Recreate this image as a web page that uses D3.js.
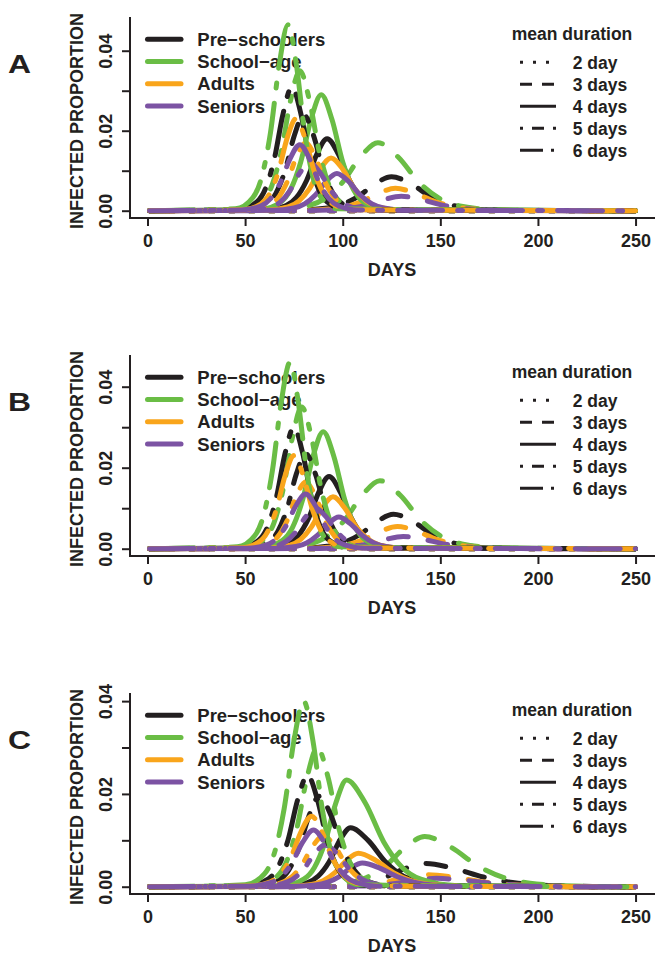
<!DOCTYPE html>
<html><head><meta charset="utf-8">
<script src="https://cdn.jsdelivr.net/npm/d3@7"></script>
<style>
body{margin:0;background:#fff}
svg{display:block}
text{font-family:"Liberation Sans",Arial,Helvetica,sans-serif;font-weight:bold;fill:#231f20}
</style>
</head><body>
<svg id="chart" width="664" height="960"></svg>
<script>
// ---------- data ----------
const panelLetters = ["A", "B", "C"];
const groups = ["Pre\u2212schoolers", "School\u2212age", "Adults", "Seniors"];
const durations = ["2 day", "3 days", "4 days", "5 days", "6 days"];
const dayTicks = [0, 50, 100, 150, 200, 250];
const propTicks = [0, 0.01, 0.02, 0.03, 0.04];
const propLabels = ["0.00", "", "0.02", "", "0.04"];
const xLimits = [-8.96, 259.96];
const yLimits = [[-0.001825, 0.04843], [-0.0018, 0.04783], [-0.00157, 0.04175]];

// curves: [group][duration] -> [days, proportions]; duration order 2,3,4,5,6 days
const flat = [[1, 250], [0, 0]];
const curvesA = [
  [ // Pre-schoolers
    flat,
    [[1,74,91,99.5,108,116.5,125,135,145,155,165,185,250],[0,.00008,.0006,.00154,.00357,.00668,.0085,.00668,.00357,.00154,.0006,.00008,0]],
    [[1,60.5,71,76.25,81.5,86.75,92,97.75,103.5,109.25,115,126.5,250],[0,.00018,.00127,.00326,.00756,.01415,.018,.01415,.00756,.00326,.00127,.00018,0]],
    [[1,51.5,61,65.75,70.5,75.25,80,85,90,95,100,110,250],[0,.00024,.0017,.00434,.01008,.01886,.024,.01886,.01008,.00434,.0017,.00024,0]],
    [[1,47,56,60.5,65,69.5,74,78.5,83,87.5,92,101,250],[0,.00031,.00219,.00561,.01302,.02437,.031,.02437,.01302,.00561,.00219,.00031,0]]
  ],
  [ // School-age
    flat,
    [[1,64,82,91,100,109,118,128.5,139,149.5,160,181,250],[0,.00017,.0012,.00308,.00714,.01336,.017,.01336,.00714,.00308,.0012,.00017,0]],
    [[1,57.5,68,73.25,78.5,83.75,89,94.5,100,105.5,111,122,250],[0,.00029,.00205,.00525,.01218,.0228,.029,.0228,.01218,.00525,.00205,.00029,0]],
    [[1,49.5,59,63.75,68.5,73.25,78,83,88,93,98,108,250],[0,.00035,.00247,.00634,.0147,.0275,.035,.0275,.0147,.00634,.00247,.00035,0]],
    [[1,45,54,58.5,63,67.5,72,76.25,80.5,84.75,89,97.5,250],[0,.00046,.00329,.00842,.01953,.03655,.0465,.03655,.01953,.00842,.00329,.00046,0]]
  ],
  [ // Adults
    flat,
    [[1,76,93,101.5,110,118.5,127,137,147,157,167,187,250],[0,.00006,.0004,.00101,.00235,.0044,.0056,.0044,.00235,.00101,.0004,.00006,0]],
    [[1,61,72,77.5,83,88.5,94,100,106,112,118,130,250],[0,.00013,.00093,.00239,.00554,.01038,.0132,.01038,.00554,.00239,.00093,.00013,0]],
    [[1,52.5,62,66.75,71.5,76.25,81,86,91,96,101,111,250],[0,.00017,.0012,.00308,.00714,.01336,.017,.01336,.00714,.00308,.0012,.00017,0]],
    [[1,49,58,62.5,67,71.5,76,80.75,85.5,90.25,95,104.5,250],[0,.00023,.00163,.00416,.00966,.01808,.023,.01808,.00966,.00416,.00163,.00023,0]]
  ],
  [ // Seniors
    flat,
    [[1,79,96,104.5,113,121.5,130,140,150,160,170,190,250],[0,.00004,.00025,.00065,.00151,.00283,.0036,.00283,.00151,.00065,.00025,.00004,0]],
    [[1,64,75,80.5,86,91.5,97,103,109,115,121,133,250],[0,.00009,.00066,.00168,.00391,.00731,.0093,.00731,.00391,.00168,.00066,.00009,0]],
    [[1,53,63,68,73,78,83,88.5,94,99.5,105,116,250],[0,.00012,.00085,.00217,.00504,.00943,.012,.00943,.00504,.00217,.00085,.00012,0]],
    [[1,48,58,63,68,73,78,83,88,93,98,108,250],[0,.00016,.00117,.00299,.00693,.01297,.0165,.01297,.00693,.00299,.00117,.00016,0]]
  ]
];
const curvesB = [
  [
    flat,
    [[1,75,92,100.5,109,117.5,126,136,146,156,166,186,250],[0,.00008,.0006,.00154,.00357,.00668,.0085,.00668,.00357,.00154,.0006,.00008,0]],
    [[1,61.5,72,77.25,82.5,87.75,93,98.75,104.5,110.25,116,127.5,250],[0,.00018,.00126,.00322,.00748,.01399,.0178,.01399,.00748,.00322,.00126,.00018,0]],
    [[1,52.5,62,66.75,71.5,76.25,81,86,91,96,101,111,250],[0,.00023,.00166,.00425,.00987,.01847,.0235,.01847,.00987,.00425,.00166,.00023,0]],
    [[1,48,57,61.5,66,70.5,75,79.5,84,88.5,93,102,250],[0,.0003,.00212,.00543,.0126,.02358,.03,.02358,.0126,.00543,.00212,.0003,0]]
  ],
  [
    flat,
    [[1,65,83,92,101,110,119,129.5,140,150.5,161,182,250],[0,.00017,.00119,.00304,.00706,.0132,.0168,.0132,.00706,.00304,.00119,.00017,0]],
    [[1,58.5,69,74.25,79.5,84.75,90,95.5,101,106.5,112,123,250],[0,.00029,.00204,.00523,.01214,.02272,.0289,.02272,.01214,.00523,.00204,.00029,0]],
    [[1,50.5,60,64.75,69.5,74.25,79,84,89,94,99,109,250],[0,.00035,.00247,.00634,.0147,.0275,.035,.0275,.0147,.00634,.00247,.00035,0]],
    [[1,46,55,59.5,64,68.5,73,77.25,81.5,85.75,90,98.5,250],[0,.00046,.00325,.00833,.01932,.03616,.046,.03616,.01932,.00833,.00325,.00046,0]]
  ],
  [
    flat,
    [[1,77,94,102.5,111,119.5,128,138,148,158,168,188,250],[0,.00005,.00039,.001,.00231,.00432,.0055,.00432,.00231,.001,.00039,.00005,0]],
    [[1,62,73,78.5,84,89.5,95,101,107,113,119,131,250],[0,.00013,.0009,.00232,.00538,.01006,.0128,.01006,.00538,.00232,.0009,.00013,0]],
    [[1,52.5,62,66.75,71.5,76.25,81,86,91,96,101,111,250],[0,.00016,.00117,.00299,.00693,.01297,.0165,.01297,.00693,.00299,.00117,.00016,0]],
    [[1,48,57,61.5,66,70.5,75,79.75,84.5,89.25,94,103.5,250],[0,.00023,.00163,.00416,.00966,.01808,.023,.01808,.00966,.00416,.00163,.00023,0]]
  ],
  [
    flat,
    [[1,80,97,105.5,114,122.5,131,141,151,161,171,191,250],[0,.00003,.00021,.00054,.00126,.00236,.003,.00236,.00126,.00054,.00021,.00003,0]],
    [[1,65,76,81.5,87,92.5,98,104,110,116,122,134,250],[0,.00008,.00055,.00141,.00328,.00613,.0078,.00613,.00328,.00141,.00055,.00008,0]],
    [[1,56,66,71,76,81,86,91.5,97,102.5,108,119,250],[0,.0001,.00071,.00181,.0042,.00786,.01,.00786,.0042,.00181,.00071,.0001,0]],
    [[1,51,61,66,71,76,81,86,91,96,101,111,250],[0,.00013,.00095,.00244,.00567,.01061,.0135,.01061,.00567,.00244,.00095,.00013,0]]
  ]
];
const curvesC = [
  [
    flat,
    [[1,82,102,112,122,132,142,157,172,187,202,232,250],[0,.00005,.00035,.0009,.0021,.00393,.005,.00393,.0021,.0009,.00035,.00005,0]],
    [[1,71,82,87.5,93,98.5,104,113,122,131,140,158,250],[0,.00013,.0009,.0023,.00533,.00998,.0127,.00998,.00533,.0023,.0009,.00013,0]],
    [[1,56.5,67,72.25,77.5,82.75,88,94,100,106,112,124,250],[0,.00019,.00138,.00353,.00819,.01533,.0195,.01533,.00819,.00353,.00138,.00019,0]],
    [[1,52,62,67,72,77,82,87,92,97,102,112,250],[0,.00024,.0017,.00434,.01008,.01886,.024,.01886,.01008,.00434,.0017,.00024,0]]
  ],
  [
    flat,
    [[1,82,102,112,122,132,142,155.5,169,182.5,196,223,250],[0,.00011,.00076,.00195,.00454,.00849,.0108,.00849,.00454,.00195,.00076,.00011,0]],
    [[1,69,80,85.5,91,96.5,102,111.5,121,130.5,140,159,250],[0,.00023,.00163,.00416,.00966,.01808,.023,.01808,.00966,.00416,.00163,.00023,0]],
    [[1,55.5,66,71.25,76.5,81.75,87,92.5,98,103.5,109,120,250],[0,.0003,.00212,.00543,.0126,.02358,.03,.02358,.0126,.00543,.00212,.0003,0]],
    [[1,50,60,65,70,75,80,84.75,89.5,94.25,99,108.5,250],[0,.0004,.00283,.00724,.0168,.03144,.04,.03144,.0168,.00724,.00283,.0004,0]]
  ],
  [
    flat,
    [[1,83,103,113,123,133,143,157,171,185,199,227,250],[0,.00003,.00018,.00047,.00109,.00204,.0026,.00204,.00109,.00047,.00018,.00003,0]],
    [[1,72,84,90,96,102,108,117,126,135,144,162,250],[0,.00007,.00051,.0013,.00302,.00566,.0072,.00566,.00302,.0013,.00051,.00007,0]],
    [[1,57,68,73.5,79,84.5,90,96,102,108,114,126,250],[0,.00011,.00078,.00199,.00462,.00865,.011,.00865,.00462,.00199,.00078,.00011,0]],
    [[1,52.5,63,68.25,73.5,78.75,84,89.25,94.5,99.75,105,115.5,250],[0,.00015,.00107,.00275,.00638,.01195,.0152,.01195,.00638,.00275,.00107,.00015,0]]
  ],
  [
    flat,
    [[1,88,108,118,128,138,148,162,176,190,204,232,250],[0,.00002,.00013,.00033,.00076,.00141,.0018,.00141,.00076,.00033,.00013,.00002,0]],
    [[1,74,86,92,98,104,110,119,128,137,146,164,250],[0,.00005,.00036,.00092,.00214,.00401,.0051,.00401,.00214,.00092,.00036,.00005,0]],
    [[1,58,69,74.5,80,85.5,91,97.25,103.5,109.75,116,128.5,250],[0,.00009,.00064,.00163,.00378,.00707,.009,.00707,.00378,.00163,.00064,.00009,0]],
    [[1,52,63,68.5,74,79.5,85,90.5,96,101.5,107,118,250],[0,.00012,.00086,.00221,.00512,.00959,.0122,.00959,.00512,.00221,.00086,.00012,0]]
  ]
];
const panels = [curvesA, curvesB, curvesC];

// ---------- style ----------
const colors = ["#231f20", "#6abd45", "#f9a51b", "#7c53a3"];
const dashUnits = [[1, 3], [4, 4], null, [1, 3, 4, 3], [9, 3, 1, 3]];
const legendDash = ["3,10", "12,10", null, "3,9,12,9", "23,8,3,8"];
const LW = 5;
const ink = "#231f20";

const svg = d3.select("#chart");
const x = d3.scaleLinear().domain(xLimits).range([130, 655]);
const step = 338;

panels.forEach((curves, pi) => {
  const off = pi * step;
  const top = 17 + off, bot = 218 + off;
  const y = d3.scaleLinear().domain(yLimits[pi]).range([bot, top]);
  const g = svg.append("g");

  // panel letter
  g.append("text").attr("transform", `translate(8,${73.3 + off}) scale(1.25,1)`)
    .attr("font-size", 25.5).text(panelLetters[pi]);

  // L-shaped box
  g.append("path").attr("d", `M130,${top}V${bot}H655`).attr("fill", "none")
    .attr("stroke", ink).attr("stroke-width", 2);

  // x axis
  const xa = g.append("g").attr("transform", `translate(0,${bot})`)
    .call(d3.axisBottom(x).tickValues(dayTicks).tickSize(8).tickSizeOuter(0).tickPadding(8).tickFormat(d3.format("d")));
  xa.select(".domain").remove();
  xa.selectAll(".tick line").attr("stroke", ink).attr("stroke-width", 2);
  xa.selectAll(".tick text").attr("font-size", 18).attr("font-family", null).attr("fill", ink);

  // y axis
  const ya = g.append("g").attr("transform", `translate(130,0)`)
    .call(d3.axisLeft(y).tickValues(propTicks).tickSize(8).tickSizeOuter(0).tickFormat((d, i) => propLabels[i]));
  ya.select(".domain").remove();
  ya.selectAll(".tick line").attr("stroke", ink).attr("stroke-width", 2);
  ya.selectAll(".tick text").attr("font-size", 18).attr("font-family", null).attr("fill", ink)
    .attr("x", null).attr("dy", null).attr("text-anchor", "middle")
    .attr("transform", "translate(-18,0) rotate(-90)");

  // axis titles
  g.append("text").attr("transform", `translate(83,${121 + off}) rotate(-90)`)
    .attr("text-anchor", "middle").attr("font-size", 18).text("INFECTED PROPORTION");
  g.append("text").attr("x", 392).attr("y", 275.7 + off)
    .attr("text-anchor", "middle").attr("font-size", 18).text("DAYS");

  // group legend
  const lg = g.append("g");
  groups.forEach((name, gi) => {
    const ly = 39.3 + off + gi * 22.2;
    lg.append("line").attr("x1", 147.5).attr("x2", 181).attr("y1", ly).attr("y2", ly)
      .attr("stroke", colors[gi]).attr("stroke-width", LW).attr("stroke-linecap", "round");
    lg.append("text").attr("x", 197.3).attr("y", ly + 6.7).attr("font-size", 18.5).text(name);
  });

  // duration legend
  g.append("text").attr("x", 511.7).attr("y", 40 + off).attr("font-size", 17.5).text("mean duration");
  durations.forEach((name, di) => {
    const ly = 62.3 + off + di * 22;
    const l = g.append("line").attr("x1", 520).attr("x2", 556).attr("y1", ly).attr("y2", ly)
      .attr("stroke", ink).attr("stroke-width", 3);
    if (legendDash[di]) l.attr("stroke-dasharray", legendDash[di]);
    g.append("text").attr("x", 572.7).attr("y", ly + 6.5).attr("font-size", 17.5).text(name);
  });

  // curves: duration outer, group inner
  const line = d3.line().x(d => x(d[0])).y(d => y(d[1])).curve(d3.curveMonotoneX);
  const cg = g.append("g");
  durations.forEach((dn, di) => {
    curves.forEach((gc, gi) => {
      const [days, vals] = gc[di];
      const pts = days.map((d, k) => [d, vals[k]]);
      const p = cg.append("path").attr("d", line(pts)).attr("fill", "none")
        .attr("stroke", colors[gi]).attr("stroke-width", LW)
        .attr("stroke-linecap", "round").attr("stroke-linejoin", "round");
      if (dashUnits[di]) p.attr("stroke-dasharray", dashUnits[di].map(u => u * LW).join(","));
    });
  });
});
</script>
</body></html>
